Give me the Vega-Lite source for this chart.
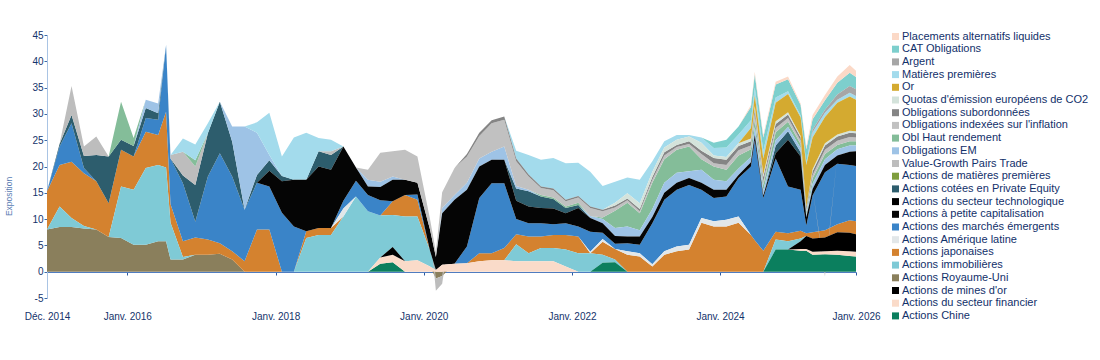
{
  "$schema": "https://vega.github.io/schema/vega-lite/v6.json",
  "autosize": {"type": "none"},
  "padding": {"left": 47, "top": 35, "right": 244, "bottom": 62},
  "width": 809,
  "height": 263,
  "config": {"font": "Liberation Sans", "view": {"stroke": null}},
  "datasets": {
    "names": [
      {"k": "chn", "name": "Actions Chine", "o": 1},
      {"k": "fin", "name": "Actions du secteur financier", "o": 2},
      {"k": "gold", "name": "Actions de mines d'or", "o": 3},
      {"k": "uk", "name": "Actions Royaume-Uni", "o": 4},
      {"k": "imm", "name": "Actions immobilières", "o": 5},
      {"k": "jp", "name": "Actions japonaises", "o": 6},
      {"k": "latam", "name": "Actions Amérique latine", "o": 7},
      {"k": "em", "name": "Actions des marchés émergents", "o": 8},
      {"k": "small", "name": "Actions à petite capitalisation", "o": 9},
      {"k": "tech", "name": "Actions du secteur technologique", "o": 10},
      {"k": "pe", "name": "Actions cotées en Private Equity", "o": 11},
      {"k": "mat", "name": "Actions de matières premières", "o": 12},
      {"k": "vg", "name": "Value-Growth Pairs Trade", "o": 13},
      {"k": "oem", "name": "Obligations EM", "o": 14},
      {"k": "hy", "name": "Obl Haut rendement", "o": 15},
      {"k": "infl", "name": "Obligations indexées sur l'inflation", "o": 16},
      {"k": "sub", "name": "Obligations subordonnées", "o": 17},
      {"k": "co2", "name": "Quotas d'émission européens de CO2", "o": 18},
      {"k": "or", "name": "Or", "o": 19},
      {"k": "mp", "name": "Matières premières", "o": 20},
      {"k": "arg", "name": "Argent", "o": 21},
      {"k": "cat", "name": "CAT Obligations", "o": 22},
      {"k": "alt", "name": "Placements alternatifs liquides", "o": 23}
    ],
    "expo": [
      {"d": "2014-12-01", "uk": 8, "jp": 7.3},
      {"d": "2015-02-01", "uk": 8.5, "imm": 3.9, "jp": 7.9, "em": 3.5, "pe": 0.5},
      {"d": "2015-04-01", "uk": 8.5, "imm": 1.7, "jp": 10.7, "em": 7.3, "pe": 1.6, "vg": 5.5},
      {"d": "2015-06-01", "uk": 8.2, "imm": 0.5, "jp": 10, "em": 1, "pe": 2.3, "vg": 1.8},
      {"d": "2015-08-01", "uk": 8, "jp": 9.2, "pe": 5, "vg": 3.5},
      {"d": "2015-10-01", "uk": 6.6, "jp": 6.4, "pe": 8.9},
      {"d": "2015-12-01", "uk": 6.4, "imm": 9.8, "jp": 7, "pe": 1.9, "hy": 7.2},
      {"d": "2016-02-01", "uk": 5.1, "imm": 10.5, "jp": 6.3, "pe": 2, "hy": 1.5},
      {"d": "2016-04-01", "uk": 5.1, "imm": 14.6, "jp": 6.9, "em": 2.6, "pe": 1.9, "oem": 1.6},
      {"d": "2016-06-01", "uk": 5.8, "imm": 14.5, "jp": 5.7, "em": 2.9, "pe": 1.2, "oem": 1.9},
      {"d": "2016-07-10", "uk": 5.8, "imm": 14, "jp": 10.6, "em": 12.7},
      {"d": "2016-08-01", "uk": 2.3, "imm": 7, "jp": 3.5, "em": 8.7, "vg": 0.7},
      {"d": "2016-10-01", "uk": 2.3, "imm": 0.5, "jp": 3, "em": 11, "pe": 1.5, "vg": 4.5, "mp": 2.5},
      {"d": "2016-12-01", "uk": 3.2, "jp": 3.3, "em": 3, "pe": 7, "hy": 1.2, "vg": 3.5, "mp": 3},
      {"d": "2017-02-01", "uk": 3.2, "jp": 2.9, "em": 12, "pe": 8.2, "mp": 1.9},
      {"d": "2017-04-01", "uk": 3.4, "jp": 2, "em": 17.1, "pe": 9.8},
      {"d": "2017-06-01", "uk": 2.3, "jp": 1.6, "em": 14.2, "pe": 6.6, "oem": 2.9},
      {"d": "2017-08-01", "jp": 2, "em": 9.8, "oem": 15.8},
      {"d": "2017-10-01", "jp": 8, "em": 8.9, "pe": 1.5, "oem": 8, "mp": 2},
      {"d": "2017-12-01", "jp": 8, "em": 8.2, "small": 3, "pe": 2, "oem": 1, "mp": 8},
      {"d": "2018-02-01", "em": 11.2, "small": 6, "pe": 1, "mp": 3.7},
      {"d": "2018-04-01", "em": 8.6, "small": 8.9, "mp": 8},
      {"d": "2018-06-01", "imm": 6.4, "jp": 1.3, "small": 9.8, "mp": 8.9},
      {"d": "2018-08-01", "imm": 7, "jp": 1.3, "small": 11.7, "pe": 2.9, "mp": 2.5},
      {"d": "2018-10-01", "imm": 7, "jp": 1.3, "small": 11.1, "pe": 2.8, "vg": 0.7, "mp": 2.2},
      {"d": "2018-12-01", "imm": 10.5, "latam": 1.5, "em": 1.5, "small": 10.3},
      {"d": "2019-02-01", "imm": 14.3, "em": 3, "small": 2.5},
      {"d": "2019-04-01", "imm": 11.5, "em": 3.1, "small": 1.6, "oem": 1.3, "infl": 1.9},
      {"d": "2019-06-01", "chn": 1.5, "fin": 1.2, "imm": 8, "em": 2.9, "small": 2.5, "oem": 1, "infl": 5.5},
      {"d": "2019-08-01", "chn": 1.8, "fin": 1.4, "gold": 1.5, "imm": 6.1, "jp": 2.6, "small": 4.1, "oem": 0.6, "infl": 4.8},
      {"d": "2019-10-01", "fin": 2, "imm": 8.5, "jp": 4.1, "small": 2.9, "infl": 5.7},
      {"d": "2019-12-01", "fin": 2.2, "imm": 8.3, "jp": 3.2, "em": 1, "small": 2.2, "infl": 5},
      {"d": "2020-02-01", "fin": 1, "imm": 3, "small": 4, "infl": 2},
      {"d": "2020-03-01", "fin": 0.3, "small": 2.5, "infl": 1, "uk": -1.3, "vg": -2.3},
      {"d": "2020-04-01", "fin": 1.3, "small": 9.8, "oem": 1, "infl": 3, "uk": -0.8, "vg": -1.5},
      {"d": "2020-06-01", "fin": 1.5, "small": 12.2, "oem": 0.9, "infl": 5.1},
      {"d": "2020-08-01", "fin": 1.6, "em": 3.2, "small": 10.8, "oem": 1.3, "infl": 5, "sub": 0.5},
      {"d": "2020-10-01", "fin": 2, "jp": 1.5, "em": 10.5, "small": 6, "oem": 1.5, "infl": 4.3, "sub": 0.6},
      {"d": "2020-12-01", "fin": 2.2, "jp": 1.3, "em": 13.3, "small": 4.5, "oem": 1.5, "infl": 5.4, "sub": 0.6},
      {"d": "2021-02-01", "fin": 2.2, "jp": 2.3, "em": 12.3, "small": 4.5, "oem": 2.5, "infl": 5.1, "sub": 0.6},
      {"d": "2021-04-01", "fin": 2, "imm": 3.2, "jp": 1.9, "em": 2.9, "small": 3.5, "pe": 2.3, "oem": 0.5, "infl": 4.7, "sub": 0.5, "mp": 1.5},
      {"d": "2021-06-01", "fin": 2, "imm": 1.5, "jp": 3.2, "em": 2.5, "small": 3.2, "pe": 2.9, "oem": 0.3, "infl": 2.5, "sub": 0.4, "mp": 3.7},
      {"d": "2021-08-01", "fin": 2, "imm": 2.5, "jp": 2.2, "em": 2.5, "small": 2.9, "pe": 2.2, "hy": 0.3, "infl": 1.3, "sub": 0.3, "mp": 5.1},
      {"d": "2021-10-01", "fin": 2, "imm": 2.5, "jp": 2.5, "em": 2, "small": 3, "pe": 1.8, "hy": 0.3, "infl": 1.4, "sub": 0.3, "mp": 5.8},
      {"d": "2021-12-01", "fin": 1, "imm": 3.2, "jp": 2.8, "em": 2.2, "small": 1.9, "pe": 1, "hy": 0.3, "infl": 1, "sub": 0.3, "mp": 6.9},
      {"d": "2022-02-01", "imm": 3.5, "jp": 3.2, "em": 1.9, "small": 3.5, "pe": 0.6, "hy": 0.4, "infl": 1, "sub": 0.3, "mp": 6.3},
      {"d": "2022-04-01", "imm": 3.5, "latam": 0.3, "em": 3.8, "small": 2.6, "oem": 0.4, "infl": 1.5, "sub": 0.3, "mp": 6.6},
      {"d": "2022-06-01", "chn": 1.7, "imm": 1.5, "jp": 2.5, "latam": 0.5, "em": 1.2, "small": 1.8, "oem": 0.8, "hy": 0.3, "infl": 1.2, "sub": 0.3, "mp": 4.5},
      {"d": "2022-08-01", "chn": 1.8, "imm": 0.5, "jp": 2, "em": 1, "small": 1.5, "oem": 1.5, "hy": 3.3, "infl": 0.6, "sub": 0.4, "co2": 0.5, "mp": 4},
      {"d": "2022-10-01", "jp": 3.2, "latam": 0.7, "em": 1.5, "small": 1.3, "oem": 1.9, "hy": 4.5, "infl": 0.5, "sub": 0.3, "co2": 1, "mp": 3},
      {"d": "2022-12-01", "jp": 2.9, "latam": 0.6, "em": 1.6, "small": 1.6, "oem": 1.2, "hy": 3.2, "infl": 0.4, "sub": 0.4, "co2": 1.1, "mp": 4.5},
      {"d": "2023-02-01", "jp": 1, "latam": 0.4, "em": 7.8, "small": 1.2, "oem": 1.5, "hy": 5, "infl": 0.6, "sub": 0.5, "co2": 1, "mp": 2},
      {"d": "2023-04-01", "jp": 3.2, "latam": 0.7, "em": 9.8, "small": 1.3, "oem": 1.9, "hy": 4.5, "infl": 0.7, "sub": 0.6, "co2": 0.9, "mp": 1.2},
      {"d": "2023-06-01", "jp": 3.9, "latam": 0.9, "em": 10.8, "small": 1.3, "oem": 1.9, "hy": 4.4, "infl": 0.5, "sub": 0.4, "co2": 1, "mp": 0.9},
      {"d": "2023-08-01", "jp": 4.2, "latam": 0.9, "em": 11.4, "small": 1.3, "oem": 1.3, "hy": 4.7, "infl": 0.5, "sub": 0.5, "co2": 0.9, "mp": 0.3},
      {"d": "2023-10-01", "jp": 9.3, "latam": 0.9, "em": 5.4, "small": 1.3, "oem": 2.5, "hy": 2, "infl": 1, "sub": 0.6, "co2": 1.5, "mp": 1},
      {"d": "2023-12-01", "jp": 8.6, "latam": 1, "em": 4.4, "small": 1.6, "oem": 1.9, "hy": 2.5, "infl": 0.6, "sub": 1, "co2": 0.5, "mp": 1.4, "cat": 1},
      {"d": "2024-02-01", "jp": 8.6, "latam": 1.3, "em": 4.4, "small": 1.3, "oem": 1.6, "hy": 2.2, "infl": 0.9, "sub": 1, "co2": 0.5, "mp": 1.8, "cat": 1.5},
      {"d": "2024-04-01", "jp": 9.3, "latam": 1.2, "em": 7.3, "small": 0.6, "oem": 1.2, "hy": 2.5, "infl": 1, "sub": 0.8, "co2": 0.5, "mp": 1.7, "cat": 1.5},
      {"d": "2024-06-01", "jp": 7, "em": 13, "small": 0.8, "oem": 1, "hy": 1.5, "infl": 0.7, "sub": 0.8, "co2": 0.5, "or": 2, "mp": 1.5, "cat": 2.5, "alt": 0.4},
      {"d": "2024-06-20", "jp": 6, "em": 19, "small": 1, "oem": 1.5, "hy": 1.5, "infl": 1, "sub": 1, "co2": 0.5, "or": 2, "mp": 1.5, "cat": 2.5, "alt": 0.5},
      {"d": "2024-08-01", "jp": 4, "em": 10, "small": 0.5, "oem": 1, "hy": 1, "infl": 0.7, "sub": 0.8, "co2": 0.5, "or": 3, "mp": 1.5, "cat": 2.5, "alt": 0.5},
      {"d": "2024-10-01", "chn": 4.2, "imm": 1.9, "jp": 1.5, "em": 13.9, "small": 1, "pe": 1.5, "oem": 1, "hy": 1.5, "infl": 0.8, "sub": 0.8, "co2": 0.5, "or": 3.5, "mp": 1, "cat": 2.5, "alt": 0.5},
      {"d": "2024-12-01", "chn": 4.2, "imm": 1.6, "jp": 1.5, "em": 8.9, "small": 8.9, "pe": 1.6, "oem": 0.8, "hy": 1, "infl": 0.7, "sub": 0.7, "co2": 0.4, "or": 3.5, "mp": 0.5, "cat": 2.3, "alt": 0.5},
      {"d": "2025-02-01", "chn": 4, "fin": 0.3, "gold": 1.5, "imm": 0.5, "jp": 1.5, "em": 7.8, "small": 6.3, "pe": 0.8, "oem": 0.8, "hy": 0.8, "infl": 0.6, "sub": 0.6, "co2": 0.3, "or": 3.5, "mp": 0.4, "cat": 2, "alt": 0.3},
      {"d": "2025-03-01", "chn": 4, "fin": 0.3, "gold": 2.5, "jp": 0.5, "em": 1.5, "small": 1.5, "oem": 0.5, "hy": 0.5, "infl": 0.5, "sub": 0.5, "or": 8, "mp": 0.5, "cat": 2.5, "alt": 0.5},
      {"d": "2025-04-01", "chn": 3.2, "fin": 0.6, "gold": 2.5, "jp": 1.2, "em": 7, "small": 1.2, "oem": 1, "hy": 1, "infl": 0.7, "sub": 0.7, "co2": 0.4, "or": 6, "mp": 1, "arg": 0.5, "cat": 2, "alt": 0.8},
      {"d": "2025-06-01", "chn": 3.3, "fin": 0.6, "gold": 2.6, "jp": 1.4, "em": 11, "small": 1.4, "oem": 1.1, "hy": 1, "infl": 0.8, "sub": 0.8, "co2": 0.4, "or": 5, "mp": 0.8, "arg": 0.6, "cat": 1.8, "alt": 1, "vg": -0.9},
      {"d": "2025-08-01", "chn": 3.2, "fin": 0.8, "gold": 3.5, "jp": 1.5, "em": 11.5, "small": 1.6, "oem": 1.2, "hy": 0.8, "infl": 0.8, "sub": 0.8, "co2": 0.4, "or": 6, "mp": 0.6, "arg": 1, "cat": 2.2, "alt": 1.2},
      {"d": "2025-10-01", "chn": 3, "fin": 0.9, "gold": 3.5, "jp": 2.4, "em": 10.5, "small": 2.5, "oem": 1.2, "hy": 0.8, "infl": 0.8, "sub": 0.8, "co2": 0.4, "or": 6.5, "mp": 0.7, "arg": 1.3, "cat": 2.5, "alt": 1.5},
      {"d": "2025-11-01", "chn": 2.9, "fin": 0.9, "gold": 3.3, "jp": 2.5, "em": 10.5, "small": 2.8, "oem": 1.1, "hy": 0.8, "infl": 0.7, "sub": 0.8, "co2": 0.4, "or": 6, "mp": 0.7, "arg": 1.3, "cat": 2.3, "alt": 1.2}
    ]
  },
  "data": {"name": "expo"},
  "transform": [
    {"fold": ["chn", "fin", "gold", "uk", "imm", "jp", "latam", "em", "small", "tech", "pe", "mat", "vg", "oem", "hy", "infl", "sub", "co2", "or", "mp", "arg", "cat", "alt"], "as": ["k", "v"]},
    {"filter": "isValid(datum.v)"},
    {"impute": "v", "key": "d", "groupby": ["k"], "value": 0},
    {"lookup": "k", "from": {"data": {"name": "names"}, "key": "k", "fields": ["name", "o"]}}
  ],
  "mark": {"type": "area"},
  "encoding": {
    "x": {
      "field": "d",
      "type": "temporal",
      "scale": {"domain": [{"year": 2014, "month": 12, "date": 1}, {"year": 2025, "month": 11, "date": 1}]},
      "axis": {
        "title": null,
        "grid": false,
        "offset": -26,
        "domainColor": "#4f7cc0",
        "tickColor": "#2c5aa0",
        "tickSize": 3,
        "labelPadding": 36,
        "labelFontSize": 10,
        "labelColor": "#14336b",
        "labelFlush": false,
        "labelOverlap": false,
        "values": [
          {"year": 2014, "month": 12, "date": 1},
          {"year": 2016, "month": 1, "date": 1},
          {"year": 2018, "month": 1, "date": 1},
          {"year": 2020, "month": 1, "date": 1},
          {"year": 2022, "month": 1, "date": 1},
          {"year": 2024, "month": 1, "date": 1},
          {"year": 2025, "month": 11, "date": 1}
        ],
        "labelExpr": "year(datum.value) == 2014 ? 'Déc. 2014' : (year(datum.value) == 2025 ? 'Janv. 2026' : 'Janv. ' + year(datum.value))"
      }
    },
    "y": {
      "field": "v",
      "type": "quantitative",
      "stack": "zero",
      "scale": {"domain": [-5, 45], "nice": false, "zero": false},
      "axis": {
        "title": "Exposition",
        "grid": false,
        "values": [-5, 0, 5, 10, 15, 20, 25, 30, 35, 40, 45],
        "labelExpr": "'' + datum.value",
        "domainColor": "#a9c4e4",
        "tickColor": "#3d6aa8",
        "tickSize": 3,
        "labelPadding": 1,
        "labelFontSize": 10,
        "labelColor": "#14336b",
        "titleFontSize": 8.5,
        "titleFontWeight": "normal",
        "titleColor": "#5a7db3",
        "titleX": -39,
        "titleY": 161,
        "titleBaseline": "middle"
      }
    },
    "color": {
      "field": "name",
      "type": "nominal",
      "scale": {
        "domain": ["Placements alternatifs liquides", "CAT Obligations", "Argent", "Matières premières", "Or", "Quotas d'émission européens de CO2", "Obligations subordonnées", "Obligations indexées sur l'inflation", "Obl Haut rendement", "Obligations EM", "Value-Growth Pairs Trade", "Actions de matières premières", "Actions cotées en Private Equity", "Actions du secteur technologique", "Actions à petite capitalisation", "Actions des marchés émergents", "Actions Amérique latine", "Actions japonaises", "Actions immobilières", "Actions Royaume-Uni", "Actions de mines d'or", "Actions du secteur financier", "Actions Chine"],
        "range": ["#fbd9c7", "#7dcfcd", "#a6a6a6", "#a3dbec", "#d4aa30", "#d4e3db", "#858585", "#c1c1c1", "#84bd99", "#9ec3e6", "#bdbdbd", "#7f9e3e", "#2d5d6d", "#000000", "#050505", "#3a84c8", "#e2e7e9", "#d4822f", "#7fcad6", "#8a7f5c", "#000000", "#fadbc9", "#0b7f5e"]
      },
      "legend": {
        "title": null,
        "orient": "none",
        "legendX": 843,
        "legendY": -4,
        "symbolType": "square",
        "symbolSize": 49,
        "symbolStrokeWidth": 0,
        "labelFontSize": 11,
        "labelColor": "#12306a",
        "labelLimit": 300,
        "labelOffset": 1,
        "rowPadding": 0.7,
        "symbolLimit": 0
      }
    },
    "order": {"field": "o", "type": "quantitative", "sort": "ascending"}
  }
}
